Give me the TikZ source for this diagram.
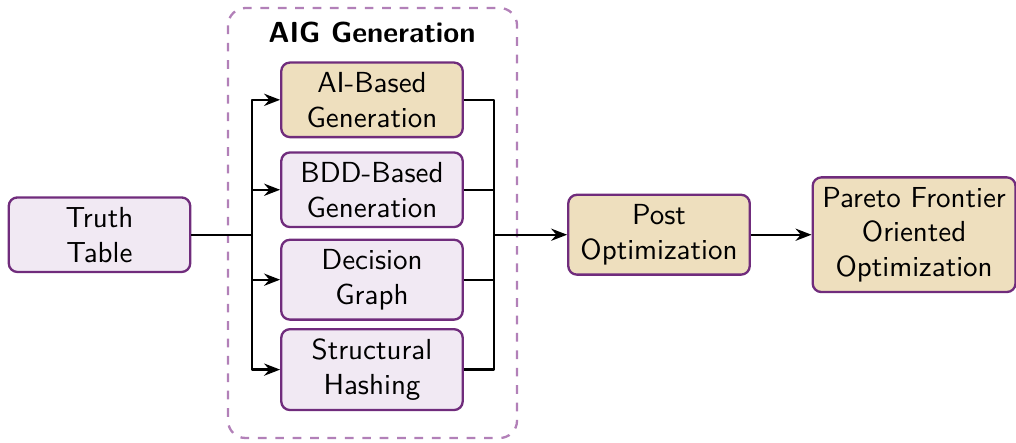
\documentclass[tikz,border=0pt]{standalone}
\usetikzlibrary{arrows.meta}
\definecolor{boxline}{RGB}{112,44,124}
\definecolor{lilac}{RGB}{241,233,243}
\definecolor{sand}{RGB}{238,223,190}
\definecolor{groupline}{RGB}{178,128,184}
\tikzset{
	blok/.style={draw=boxline, fill=lilac, rounded corners=3pt, align=center, minimum width=2.2cm, line width=0.8pt},
	tanblok/.style={blok, fill=sand}
}
\begin{document}
\begin{tikzpicture}[line width=0.8pt, font=\sffamily, line join=round, >={Stealth[length=5.5pt,width=4.2pt,inset=1.8pt]}]
	\useasboundingbox (0,0) rectangle (12.315,-5.358);
	%% diem
	\path
	(1.206,-2.845) coordinate (T)
	(4.509,-1.210) coordinate (A)
	(4.509,-2.300) coordinate (B)
	(4.509,-3.390) coordinate (D)
	(4.509,-4.480) coordinate (S)
	(3.055,-2.845) coordinate (L)
	(5.988,-2.845) coordinate (R)
	(7.988,-2.845) coordinate (P)
	(11.080,-2.845) coordinate (F)
	;
	
	%% khung nhom
	\draw[groupline, dashed, rounded corners=6pt] (2.764,-0.097) rectangle (6.267,-5.309);
	\node[font=\sffamily\bfseries] (title) at (4.509,-0.39) {AIG Generation};
	
	%% hop
	\node[blok] (tt) at (T) {Truth\\Table};
	\node[tanblok] (ai) at (A) {AI-Based\\Generation};
	\node[blok] (bdd) at (B) {BDD-Based\\Generation};
	\node[blok] (dg) at (D) {Decision\\Graph};
	\node[blok] (sh) at (S) {Structural\\Hashing};
	\node[tanblok] (post) at (P) {Post\\Optimization};
	\node[tanblok] (pf) at (F) {Pareto Frontier\\Oriented\\Optimization};
	
	%% noi
	\draw (tt.east)--(L);
	\foreach \x in {ai,bdd,dg,sh}
	\draw[->] (L) |- (\x.west);
	\foreach \x in {ai,bdd,dg,sh}
	\draw (\x.east) -| (R);
	\draw[->] (R)--(post);
	\draw[->] (post)--(pf);
\end{tikzpicture}
\end{document}
